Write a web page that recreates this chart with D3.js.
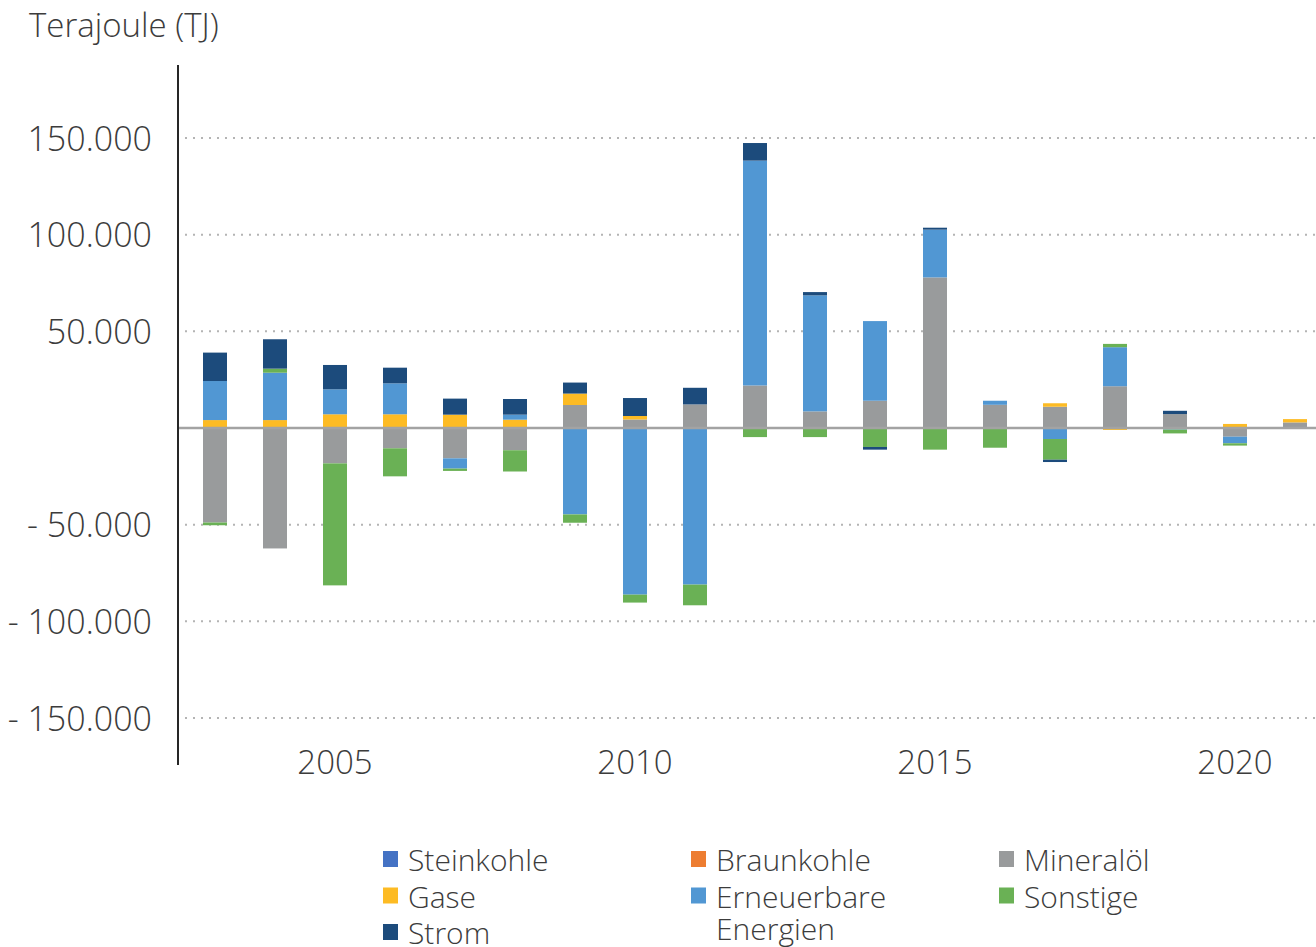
<!DOCTYPE html>
<html>
<head>
<meta charset="utf-8">
<script src="https://cdn.jsdelivr.net/npm/d3@7"></script>
<style>
  body { margin: 0; background: #fff; }
  svg text { font-family: "Open Sans", sans-serif; font-weight: 300; fill: #3c3c3c; }
</style>
</head>
<body>
<svg id="chart" width="1316" height="947"></svg>
<script>
// data (TJ)
var years = [2003, 2004, 2005, 2006, 2007, 2008, 2009, 2010, 2011, 2012,
             2013, 2014, 2015, 2016, 2017, 2018, 2019, 2020, 2021];
var keys = ['Steinkohle', 'Braunkohle', 'Mineralöl', 'Gase', 'Erneuerbare Energien', 'Sonstige', 'Strom'];
var steinkohle = [0, 0, 0, 0, 0, 0, 0, 0, 0, 0, 0, 0, 0, 0, 0, 0, 0, 0, 0];
var braunkohle = [0, 0, 0, 0, 0, 0, 0, 0, 0, 0, 0, 0, 0, 0, 0, 0, 0, 0, 0];
var mineraloel = [-48900, -62300, -18300, -10500, -15700, -11500, 11900, 4400, 12200, 22000,
                  8600, 14100, 77900, 12000, 11000, 21600, 7200, -4500, 2900];
var gase = [4100, 4100, 7100, 7100, 6900, 4300, 5900, 1800, 0, 0,
            0, 0, 0, 0, 1800, -1000, 0, 2100, 1700];
var erneuerbare = [20200, 24500, 12900, 16000, -5300, 2600, -44700, -86200, -81000, 116300,
                   60000, 41200, 24700, 2100, -5700, 20200, -800, -3400, 0];
var sonstige = [-1400, 2100, -63100, -14500, -1200, -11000, -4300, -4100, -10700, -4700,
                -4700, -9800, -11200, -10200, -10700, 1700, -2000, -1200, 0];
var strom = [14700, 15200, 12600, 8100, 8300, 8100, 5700, 9300, 8600, 9100,
             1700, -1400, 1000, 0, -1200, 0, 1700, 0, 0];
var yTicks = [-150000, -100000, -50000, 50000, 100000, 150000];
var yearLabels = [2005, 2010, 2015, 2020];

var colors = {
    'Steinkohle': '#4472c4',
    'Braunkohle': '#ed7d31',
    'Mineralöl': '#999b9c',
    'Gase': '#fdbb24',
    'Erneuerbare Energien': '#5197d3',
    'Sonstige': '#6ab155',
    'Strom': '#1c4b7c'
};

var series = [steinkohle, braunkohle, mineraloel, gase, erneuerbare, sonstige, strom];
var rows = years.map(function(yr, i) {
    var r = {year: yr};
    keys.forEach(function(k, j) { r[k] = series[j][i]; });
    return r;
});

var svg = d3.select('#chart');

var x = d3.scaleBand()
    .domain(years)
    .range([185, 1325])
    .paddingInner(0.6)
    .paddingOuter(0.3);

var y = d3.scaleLinear()
    .domain([-150000, 150000])
    .range([718, 138]);

var de = d3.formatLocale({decimal: ',', thousands: '.', grouping: [3], currency: ['', ' €']});
var fmt = de.format(',');
function tickText(d) {
    return d < 0 ? '- ' + fmt(-d) : fmt(d);
}

// grid
svg.append('g')
    .selectAll('line')
    .data(yTicks)
    .enter().append('line')
    .attr('x1', 185).attr('x2', 1316)
    .attr('y1', function(d) { return y(d); })
    .attr('y2', function(d) { return y(d); })
    .attr('stroke', '#b4b4b4')
    .attr('stroke-width', 2)
    .attr('stroke-dasharray', '2 6');

// y axis labels
var yAxis = svg.append('g')
    .attr('transform', 'translate(152,0)')
    .call(d3.axisLeft(y).tickValues(yTicks).tickSize(0).tickPadding(0).tickFormat(tickText));
yAxis.select('.domain').remove();
yAxis.selectAll('text')
    .style('font-size', '34px')
    .attr('dy', '0.36em');

// stacked bars
var stack = d3.stack()
    .keys(keys)
    .offset(d3.stackOffsetDiverging);
var layers = stack(rows);

svg.append('g')
    .selectAll('g')
    .data(layers)
    .enter().append('g')
    .attr('fill', function(d) { return colors[d.key]; })
    .selectAll('rect')
    .data(function(d) { return d; })
    .enter().append('rect')
    .attr('x', function(d) { return x(d.data.year); })
    .attr('width', x.bandwidth())
    .attr('y', function(d) { return y(Math.max(d[0], d[1])); })
    .attr('height', function(d) { return Math.abs(y(d[0]) - y(d[1])); });

// zero line
svg.append('line')
    .attr('x1', 178).attr('x2', 1316)
    .attr('y1', y(0)).attr('y2', y(0))
    .attr('stroke', '#a3a3a3')
    .attr('stroke-width', 2.5);

// vertical axis line
svg.append('line')
    .attr('x1', 178).attr('x2', 178)
    .attr('y1', 65).attr('y2', 765)
    .attr('stroke', '#262626')
    .attr('stroke-width', 2);

// x labels
svg.append('g')
    .selectAll('text')
    .data(yearLabels)
    .enter().append('text')
    .attr('x', function(d) { return x(d) + x.bandwidth() / 2; })
    .attr('y', 774)
    .attr('text-anchor', 'middle')
    .style('font-size', '33px')
    .text(function(d) { return d; });

// unit title
svg.append('text')
    .attr('x', 29).attr('y', 37)
    .style('font-size', '33px')
    .text('Terajoule (TJ)');

// legend
var legendItems = [
    {key: 'Steinkohle', lines: ['Steinkohle'], col: 0, row: 0},
    {key: 'Braunkohle', lines: ['Braunkohle'], col: 1, row: 0},
    {key: 'Mineralöl', lines: ['Mineralöl'], col: 2, row: 0},
    {key: 'Gase', lines: ['Gase'], col: 0, row: 1},
    {key: 'Erneuerbare Energien', lines: ['Erneuerbare', 'Energien'], col: 1, row: 1},
    {key: 'Sonstige', lines: ['Sonstige'], col: 2, row: 1},
    {key: 'Strom', lines: ['Strom'], col: 0, row: 2}
];
var colX = [383, 691, 999];
var legend = svg.append('g');
var li = legend.selectAll('g')
    .data(legendItems)
    .enter().append('g')
    .attr('transform', function(d) {
        return 'translate(' + colX[d.col] + ',' + (871 + d.row * 36.5) + ')';
    });
li.append('rect')
    .attr('x', 0).attr('y', -20)
    .attr('width', 15).attr('height', 16)
    .attr('fill', function(d) { return colors[d.key]; });
li.append('text')
    .style('font-size', '30px')
    .attr('x', 25)
    .selectAll('tspan')
    .data(function(d) { return d.lines; })
    .enter().append('tspan')
    .attr('x', 25)
    .attr('dy', function(d, i) { return i ? 32 : 0; })
    .text(function(d) { return d; });
</script>
</body>
</html>
